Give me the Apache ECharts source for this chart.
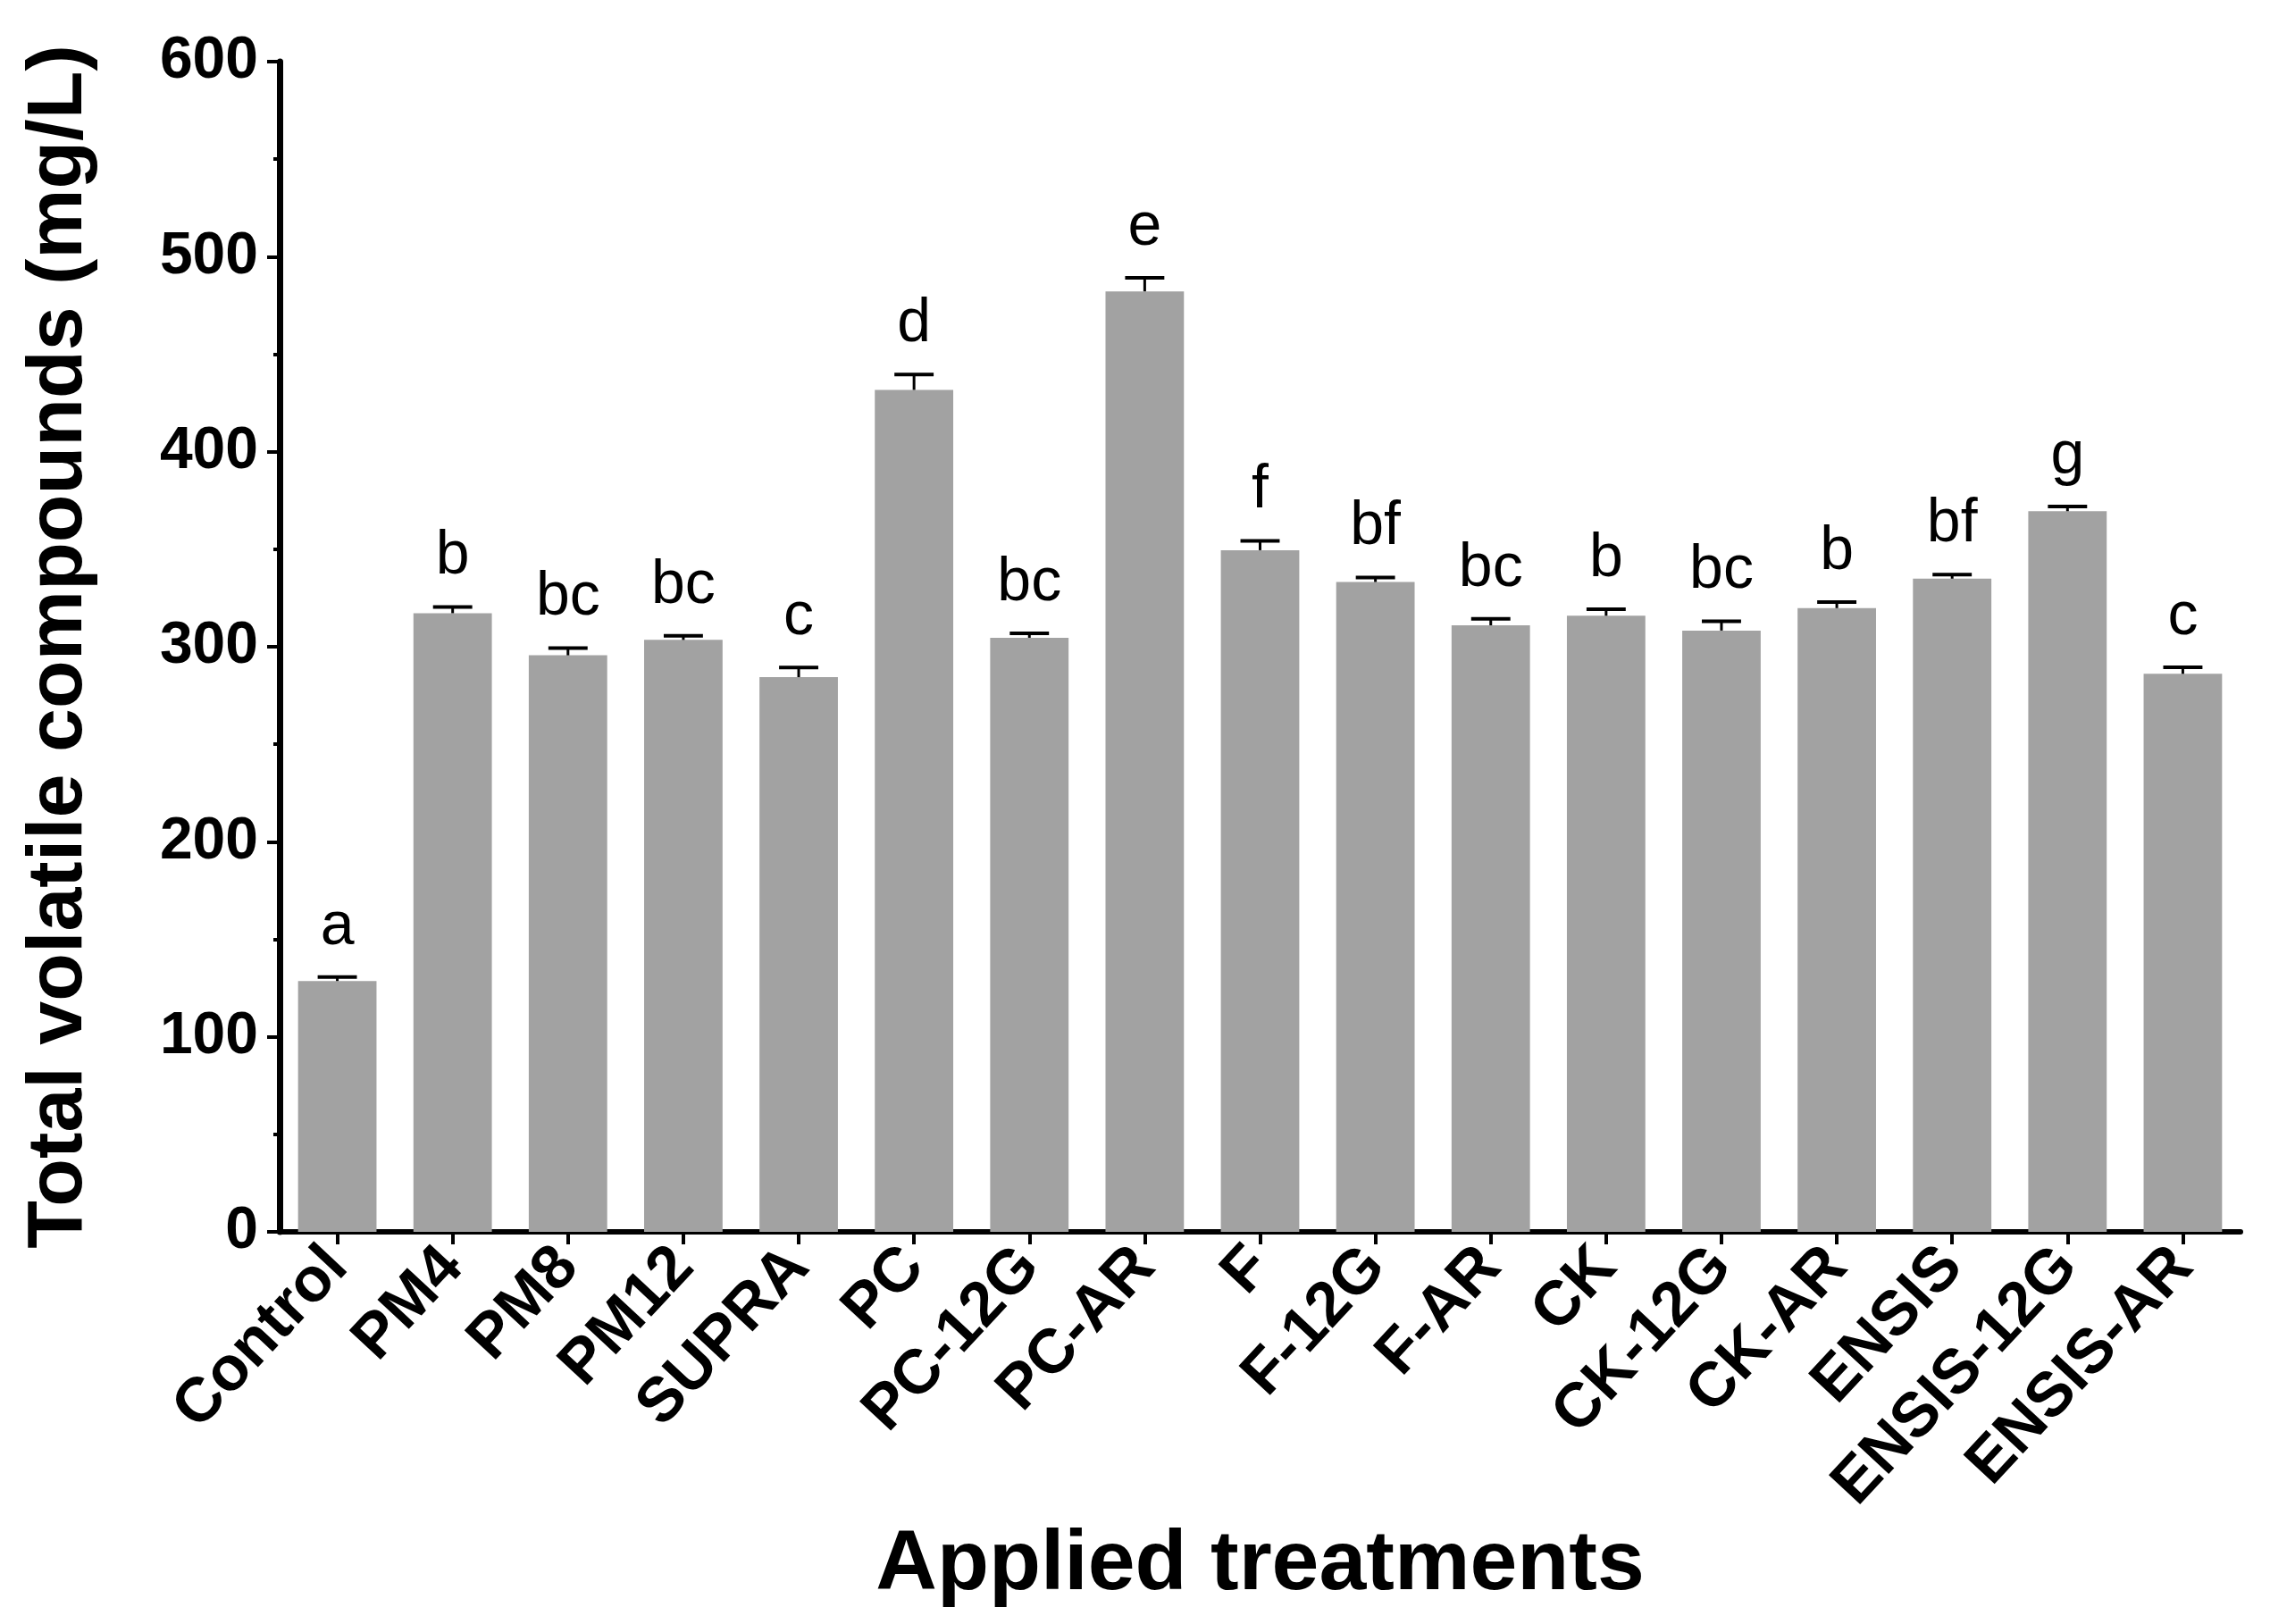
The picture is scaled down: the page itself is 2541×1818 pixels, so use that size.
<!DOCTYPE html>
<html>
<head>
<meta charset="utf-8">
<script src="https://cdn.jsdelivr.net/npm/echarts@6/dist/echarts.min.js"></script>
<style>
html,body{margin:0;padding:0;background:#fff;}
#chart{width:2541px;height:1818px;}
</style>
</head>
<body>
<div id="chart"></div>
<script>
const categories = ['Control','PM4','PM8','PM12','SUPRA','PC','PC-12G','PC-AR','F','F-12G','F-AR','CK','CK-12G','CK-AR','ENSIS','ENSIS-12G','ENSIS-AR'];
const values = [128.6, 317.2, 295.6, 303.5, 284.4, 431.7, 304.6, 482.2, 349.5, 333.2, 311.0, 315.9, 308.3, 319.8, 334.9, 369.5, 286.1];
const errors = [2.0, 3.2, 3.7, 2.1, 5.0, 7.9, 2.3, 7.0, 4.8, 2.3, 3.3, 3.3, 4.8, 3.1, 2.1, 2.4, 3.4];
const letters = ['a','b','bc','bc','c','d','bc','e','f','bf','bc','b','bc','b','bf','g','c'];
const yTicks = [0, 100, 200, 300, 400, 500, 600];

const FONT = '"Liberation Sans", Arial, Helvetica, sans-serif';
const chart = echarts.init(document.getElementById('chart'), null, {renderer: 'canvas'});

const option = {
  backgroundColor: '#ffffff',
  animation: false,
  grid: {left: 313, right: 33, top: 69, bottom: 439, containLabel: false},
  xAxis: {
    type: 'category',
    data: categories,
    boundaryGap: true,
    name: 'Applied treatments',
    nameLocation: 'middle',
    nameGap: 326,
    nameTextStyle: {fontFamily: FONT, fontWeight: 'bold', fontSize: 95, color: '#000'},
    axisLine: {show: true, lineStyle: {color: '#000', width: 6}},
    axisTick: {show: true, alignWithLabel: true, length: 14, lineStyle: {color: '#000', width: 4}},
    axisLabel: {rotate: 47, interval: 0, margin: 28, fontFamily: FONT, fontWeight: 'bold', fontSize: 70, color: '#000'},
    splitLine: {show: false}
  },
  yAxis: {
    type: 'value',
    min: yTicks[0],
    max: yTicks[yTicks.length - 1],
    interval: 100,
    name: 'Total volatile compounds (mg/L)',
    nameLocation: 'middle',
    nameGap: 202,
    nameTextStyle: {fontFamily: FONT, fontWeight: 'bold', fontSize: 88, color: '#000'},
    axisLine: {show: true, lineStyle: {color: '#000', width: 7}},
    axisTick: {show: true, length: 14, lineStyle: {color: '#000', width: 4}},
    minorTick: {show: true, splitNumber: 2, length: 7, lineStyle: {color: '#000', width: 4}},
    axisLabel: {margin: 24, fontFamily: FONT, fontWeight: 'bold', fontSize: 66, color: '#000'},
    splitLine: {show: false},
    minorSplitLine: {show: false}
  },
  series: [
    {
      type: 'bar',
      data: values,
      barWidth: '68%',
      itemStyle: {color: '#a2a2a2'},
      silent: true
    },
    {
      type: 'custom',
      data: values.map((v, i) => [i, v, errors[i]]),
      encode: {x: 0, y: 1},
      silent: true,
      z: 5,
      renderItem: function (params, api) {
        const i = api.value(0);
        const v = api.value(1);
        const e = api.value(2);
        const base = api.coord([i, v]);
        const top = api.coord([i, v + e]);
        const bw = api.size([1, 0])[0];
        const capW = bw * 0.34;
        return {
          type: 'group',
          children: [
            {type: 'line', shape: {x1: base[0], y1: base[1], x2: top[0], y2: top[1]}, style: {stroke: '#000', lineWidth: 3}},
            {type: 'line', shape: {x1: top[0] - capW / 2, y1: top[1], x2: top[0] + capW / 2, y2: top[1]}, style: {stroke: '#000', lineWidth: 4}},
            {type: 'text', x: top[0], y: top[1] - 22, style: {text: letters[i], fontFamily: FONT, fontSize: 68, fill: '#000', align: 'center', verticalAlign: 'bottom'}}
          ]
        };
      }
    }
  ]
};
chart.setOption(option);
</script>
</body>
</html>
